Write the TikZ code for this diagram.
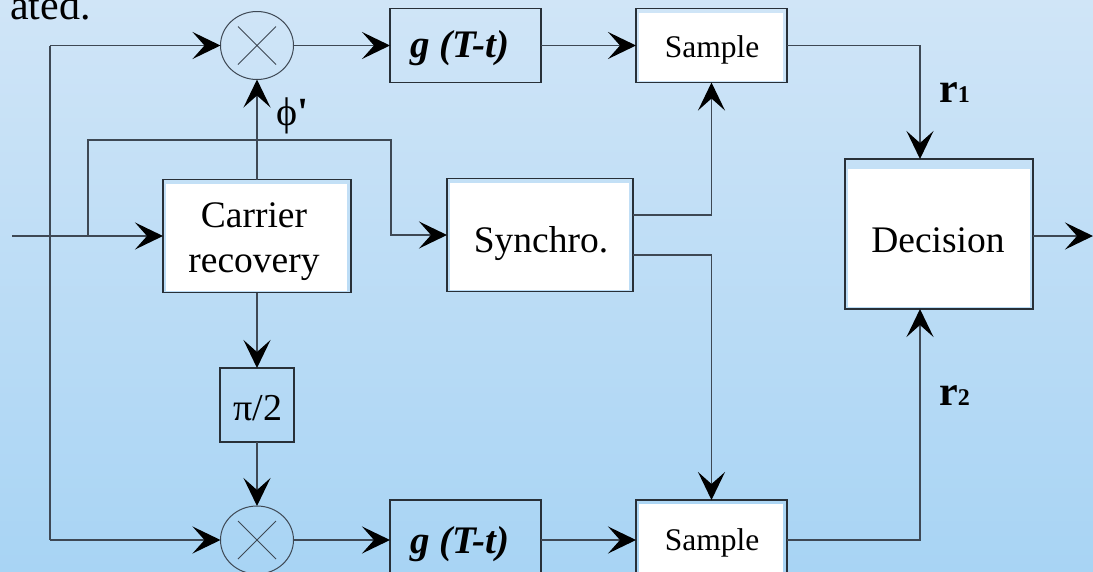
\documentclass[tikz,border=0pt]{standalone}
\usepackage{fontspec}
\setmainfont{Liberation Serif}
\usetikzlibrary{arrows.meta,calc,shapes.geometric}
\definecolor{bgtop}{RGB}{208,229,247}
\definecolor{bgbot}{RGB}{168,212,244}
\definecolor{linec}{RGB}{62,72,84}
\definecolor{boxc}{RGB}{40,48,56}
\begin{document}
\begin{tikzpicture}[x=1pt,y=-1pt,
  line/.style={draw=linec,line width=1.3pt},
  arr/.style={line,-{Stealth[length=28pt,width=27pt,inset=12pt,color=black]}},
  plainbox/.style={draw=boxc,line width=1.3pt,inner sep=0pt,outer sep=0pt},
  whitebox/.style={plainbox,path picture={\fill[white] ([xshift=3pt,yshift=-4pt]path picture bounding box.north west) rectangle ([xshift=-4pt,yshift=2pt]path picture bounding box.south east);}},
  decbox/.style={plainbox,path picture={\fill[white] ([xshift=3pt,yshift=-10pt]path picture bounding box.north west) rectangle ([xshift=-3pt,yshift=2pt]path picture bounding box.south east);}},
  mult/.style={draw=linec,line width=1pt,ellipse,minimum width=73pt,minimum height=68pt,inner sep=0pt,outer sep=0pt},
  txt/.style={inner sep=0pt,anchor=base,font=\fontsize{37.5}{40}\selectfont},
  smp/.style={inner sep=0pt,anchor=base,font=\fontsize{31.5}{34}\selectfont},
  gtxt/.style={inner sep=0pt,anchor=base west,font=\fontsize{39}{42}\selectfont\bfseries\itshape},
]
\useasboundingbox (0,0) rectangle (1093,571);
\shade[top color=bgtop,bottom color=bgbot] (0,0) rectangle (1093,571);

% stray text at top left
\node[inner sep=0pt,anchor=base east,font=\fontsize{42}{46}\selectfont] (ated) at (91,19) {ated.};

% boxes
\node[mult] (m1) at (257,45.5) {};
\node[mult] (m2) at (257,540) {};
\draw[linec,line width=1pt] (m1.center) +(-19,-19) -- +(19,19) +(-19,19) -- +(19,-19);
\draw[linec,line width=1pt] (m2.center) +(-19,-19) -- +(19,19) +(-19,19) -- +(19,-19);

\node[plainbox,minimum width=151pt,minimum height=74pt] (g1) at (465.5,45.5) {};
\node[plainbox,minimum width=151pt,minimum height=74pt] (g2) at (465.5,537) {};
\node[whitebox,minimum width=151pt,minimum height=74pt] (s1) at (711.5,45.5) {};
\node[whitebox,minimum width=151pt,minimum height=74pt] (s2) at (711.5,537) {};
\node[whitebox,minimum width=188pt,minimum height=113pt] (car) at (257,236) {};
\node[whitebox,minimum width=186pt,minimum height=113pt] (syn) at (540,235) {};
\node[decbox,minimum width=188pt,minimum height=150pt] (dec) at (939,234) {};
\node[plainbox,minimum width=74pt,minimum height=74pt] (pi) at (257,405) {};

% texts
\node[gtxt] (g1t) at (410,57) {g (T-t)};
\node[gtxt] (g2t) at (410,553) {g (T-t)};
\node[smp] (s1t) at (712,57) {Sample};
\node[smp] (s2t) at (712,550) {Sample};
\node[txt] (cart1) at (254,227) {Carrier};
\node[txt] (cart2) at (254,272) {recovery};
\node[txt] (synt) at (541,252) {Synchro.};
\node[txt] (dect) at (938,252) {Decision};
\node[inner sep=0pt,anchor=base,font=\fontsize{38}{40}\selectfont] (pit) at (258,420) {π/2};
\node[inner sep=0pt,anchor=base west,font=\fontsize{40}{42}\selectfont] (phi) at (276,125) {ϕ\textbf{\textquotesingle}};
\node[inner sep=0pt,anchor=base west] (r1) at (939,102) {\fontsize{42}{44}\selectfont\bfseries r\fontsize{24}{26}\selectfont 1};
\node[inner sep=0pt,anchor=base west] (r2) at (939,405) {\fontsize{42}{44}\selectfont\bfseries r\fontsize{24}{26}\selectfont 2};

% coordinates
\coordinate (in) at (12,236);
\coordinate (vtop) at (50,45.5);
\coordinate (vbot) at (50,540);
\coordinate (sy1) at (88,236);
\coordinate (syc) at (391,140);
\coordinate (so1) at (syn.east |- 0,215);
\coordinate (so2) at (syn.east |- 0,255);
\coordinate (d1) at (920,159);
\coordinate (d2) at (920,309);
\coordinate (out) at (1093,236);

% connectors
\draw[arr] (in) -- (car.west);
\draw[line] (vtop) -- (vbot);
\draw[arr] (vtop) -- (m1.west);
\draw[arr] (vbot) -- (m2.west);
\draw[arr] (sy1) |- (syc) |- (syn.west);
\draw[arr] (car.north) -- (m1.south);
\draw[arr] (car.south) -- (pi.north);
\draw[arr] (pi.south) -- (m2.north);
\draw[arr] (m1.east) -- (g1.west);
\draw[arr] (g1.east) -- (s1.west);
\draw[arr] (m2.east) -- (g2.west |- m2.east);
\draw[arr] (g2.east |- m2.east) -- (s2.west |- m2.east);
\draw[arr] (so1) -| (s1.south);
\draw[arr] (so2) -| (s2.north);
\draw[arr] (s1.east) -| (d1);
\draw[arr] (s2.east |- m2.east) -| (d2);
\draw[arr] (dec.east |- out) -- (out);
\end{tikzpicture}
\end{document}
